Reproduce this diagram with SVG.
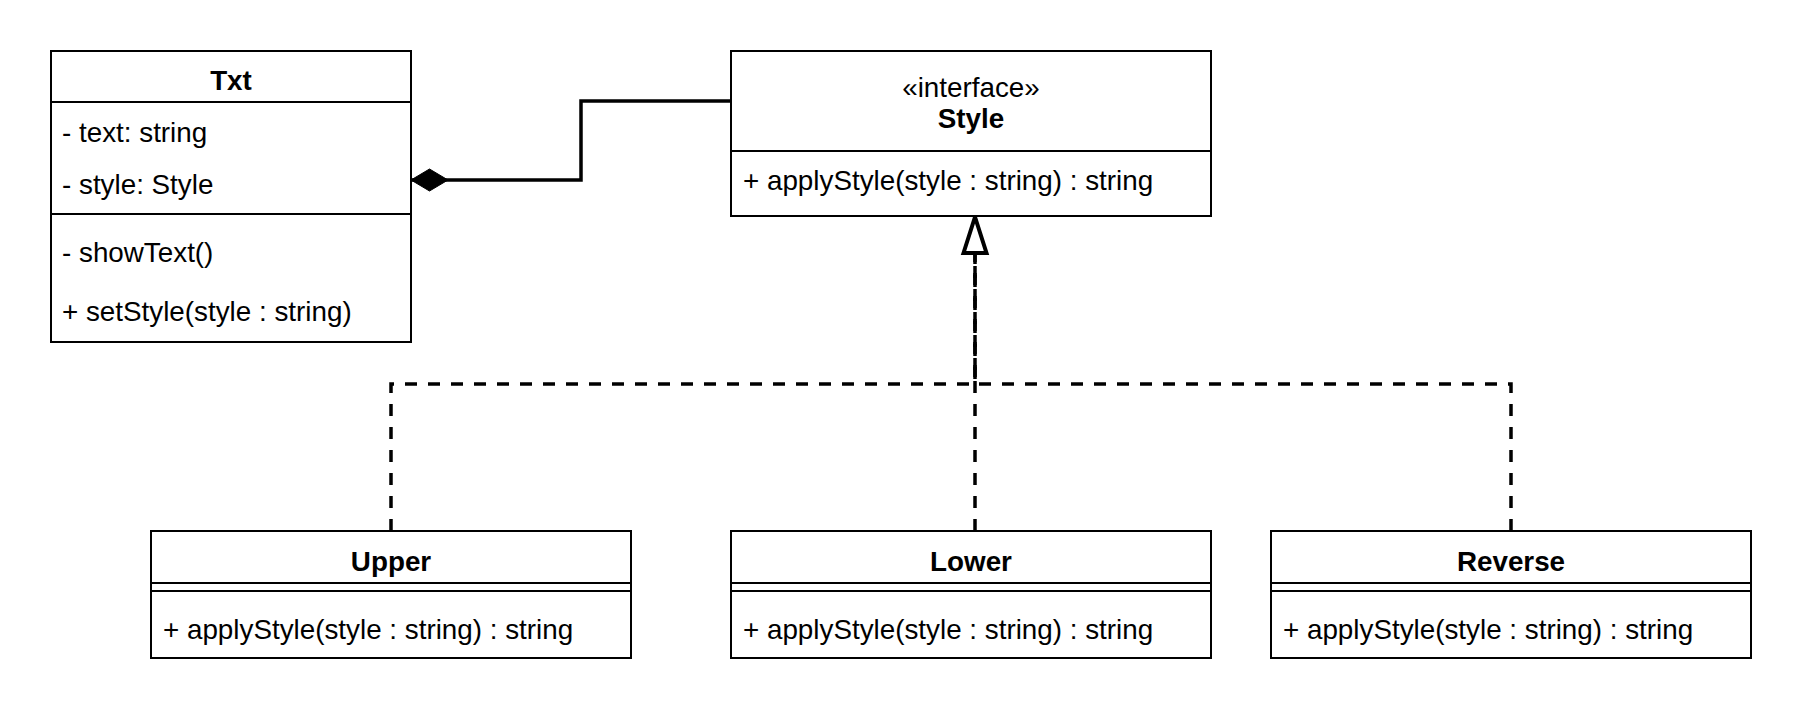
<svg xmlns="http://www.w3.org/2000/svg" width="1802" height="716" viewBox="0 0 1802 716">
  <style>
    .box { fill: #ffffff; stroke: #000000; stroke-width: 2; }
    .div { stroke: #000000; stroke-width: 2; fill: none; }
    .t { font-family: "Liberation Sans", Arial, Helvetica, sans-serif; font-size: 27.8px; fill: #000000; }
    .b { font-weight: bold; }
    .c { text-anchor: middle; }
    .solid { fill: none; stroke: #000000; stroke-width: 3.5; }
    .dash { fill: none; stroke: #000000; stroke-width: 3.5; stroke-dasharray: 12 11; }
  </style>
  <defs>
    <marker id="diamond" markerUnits="userSpaceOnUse" markerWidth="44" markerHeight="30" refX="2" refY="13" orient="auto" overflow="visible">
      <path d="M2,13 L20.5,2 L39,13 L20.5,24 Z" fill="#000000" stroke="#000000" stroke-width="1" stroke-dasharray="none"/>
    </marker>
    <marker id="realize" markerUnits="userSpaceOnUse" markerWidth="44" markerHeight="32" refX="2" refY="14" orient="auto" overflow="visible">
      <path d="M2,2.5 L38,14 L2,25.5 Z" fill="#ffffff" stroke="#000000" stroke-width="4" stroke-dasharray="none" stroke-linejoin="miter"/>
    </marker>
  </defs>

  <g id="connectors">
    <path class="solid" d="M411,180 L581,180 L581,101 L731,101" marker-start="url(#diamond)"/>
    <path class="dash" d="M391,531 L391,384 L975,384 L975,253"/>
    <path class="dash" d="M1511,531 L1511,384 L975,384 L975,253"/>
    <path class="dash" d="M975,531 L975,253" marker-end="url(#realize)"/>
  </g>

  <g id="node-txt">
    <rect class="box" x="51" y="51" width="360" height="291"/>
    <line class="div" x1="51" y1="102" x2="411" y2="102"/>
    <line class="div" x1="51" y1="214" x2="411" y2="214"/>
    <text class="t b c" x="231" y="90">Txt</text>
    <text class="t" x="62" y="142">- text: string</text>
    <text class="t" x="62" y="194">- style: Style</text>
    <text class="t" x="62" y="262">- showText()</text>
    <text class="t" x="62" y="321">+ setStyle(style : string)</text>
  </g>

  <g id="node-style">
    <rect class="box" x="731" y="51" width="480" height="165"/>
    <line class="div" x1="731" y1="151" x2="1211" y2="151"/>
    <text class="t c" x="971" y="97">«interface»</text>
    <text class="t b c" x="971" y="128">Style</text>
    <text class="t" x="743" y="190">+ applyStyle(style : string) : string</text>
  </g>

  <g id="node-upper">
    <rect class="box" x="151" y="531" width="480" height="127"/>
    <line class="div" x1="151" y1="583" x2="631" y2="583"/>
    <line class="div" x1="151" y1="591" x2="631" y2="591"/>
    <text class="t b c" x="391" y="571">Upper</text>
    <text class="t" x="163" y="639">+ applyStyle(style : string) : string</text>
  </g>

  <g id="node-lower">
    <rect class="box" x="731" y="531" width="480" height="127"/>
    <line class="div" x1="731" y1="583" x2="1211" y2="583"/>
    <line class="div" x1="731" y1="591" x2="1211" y2="591"/>
    <text class="t b c" x="971" y="571">Lower</text>
    <text class="t" x="743" y="639">+ applyStyle(style : string) : string</text>
  </g>

  <g id="node-reverse">
    <rect class="box" x="1271" y="531" width="480" height="127"/>
    <line class="div" x1="1271" y1="583" x2="1751" y2="583"/>
    <line class="div" x1="1271" y1="591" x2="1751" y2="591"/>
    <text class="t b c" x="1511" y="571">Reverse</text>
    <text class="t" x="1283" y="639">+ applyStyle(style : string) : string</text>
  </g>
</svg>
